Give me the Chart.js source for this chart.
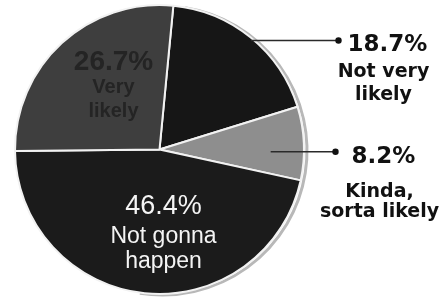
<!DOCTYPE html>
<html>
<head>
<meta charset="utf-8">
<script src="https://cdn.jsdelivr.net/npm/chart.js@4.4.0/dist/chart.umd.min.js"></script>
<style>
  html, body { margin: 0; padding: 0; background: #fff; }
  #wrap { width: 443px; height: 303px; }
</style>
</head>
<body>
<div id="wrap"><canvas id="pie" width="443" height="303"></canvas></div>
<script>
// slices, clockwise from just right of 12 o'clock
const labels = ["Not very likely", "Kinda, sorta likely", "Not gonna happen", "Very likely"];
const values = [18.7, 8.2, 46.4, 26.7];
const colors = ["#161616", "#8e8e8e", "#1b1b1b", "#3e3e3e"];
// text lines shown for each slice
const valueText = ["18.7%", "8.2%", "46.4%", "26.7%"];
const nameLines = [["Not very", "likely"], ["Kinda,", "sorta likely"], ["Not gonna", "happen"], ["Very", "likely"]];

const ctx = document.getElementById("pie");

// shadow on the right rim + labels
const labelPlugin = {
  id: "labelPlugin",
  beforeDatasetsDraw(chart) {
    const arc = chart.getDatasetMeta(0).data[0];
    const c = chart.ctx;
    c.save();
    c.strokeStyle = "#b8b8b8";
    c.lineWidth = 3;
    c.beginPath();
    c.arc(arc.x + 3, arc.y + 1, arc.outerRadius, -Math.PI * 0.45, Math.PI * 0.55);
    c.stroke();
    c.restore();
  },
  afterDatasetsDraw(chart) {
    const meta = chart.getDatasetMeta(0);
    const c = chart.ctx;
    const cx = meta.data[0].x, cy = meta.data[0].y, r = meta.data[0].outerRadius;
    c.save();
    c.textAlign = "center";
    c.textBaseline = "middle";

    // outside labels with leader lines
    const outside = [
      { i: 0, frac: 1.0, dy: 3, tx: cx + 228, dot: cx + 179, gap: 32, lh: 23 },
      { i: 1, frac: 0.77, dy: 7, tx: cx + 224, dot: cx + 176, gap: 40, lh: 20 }
    ];
    outside.forEach(o => {
      const a = meta.data[o.i];
      const mid = (a.startAngle + a.endAngle) / 2;
      const sx = cx + Math.cos(mid) * r * o.frac;
      const sy = cy + Math.sin(mid) * r * o.frac + o.dy;
      c.strokeStyle = "#2a2a2a";
      c.lineWidth = 1.5;
      c.beginPath();
      c.moveTo(sx, sy);
      c.lineTo(o.dot, sy);
      c.stroke();
      c.fillStyle = "#111";
      c.beginPath();
      c.arc(o.dot, sy, 3.2, 0, Math.PI * 2);
      c.fill();
      c.font = "bold 23px 'DejaVu Sans'";
      c.fillText(valueText[o.i], o.tx, sy + 5);
      c.font = "bold 19px 'DejaVu Sans'";
      nameLines[o.i].forEach((t, k) => c.fillText(t, o.tx - 4, sy + o.gap + k * o.lh));
    });

    // inside: Not gonna happen (white)
    c.fillStyle = "#f4f4f4";
    c.font = "27px 'Liberation Sans'";
    c.fillText(valueText[2], cx + 4, cy + 57);
    c.font = "23px 'Liberation Sans'";
    c.fillText(nameLines[2][0], cx + 4, cy + 87);
    c.fillText(nameLines[2][1], cx + 4, cy + 112);

    // inside: Very likely (dark on dark)
    c.fillStyle = "#242424";
    c.font = "bold 28px 'Liberation Sans'";
    c.fillText(valueText[3], cx - 46, cy - 87);
    c.font = "bold 20px 'Liberation Sans'";
    c.fillText(nameLines[3][0], cx - 46, cy - 62);
    c.fillText(nameLines[3][1], cx - 46, cy - 38);
    c.restore();
  }
};

new Chart(ctx, {
  type: "pie",
  data: {
    labels: labels,
    datasets: [{
      data: values,
      backgroundColor: colors,
      borderColor: "#f2f2f2",
      borderWidth: 2
    }]
  },
  options: {
    responsive: false,
    animation: false,
    rotation: 5.5,
    layout: { padding: { left: 13, right: 137, top: 4, bottom: 8 } },
    plugins: {
      legend: { display: false },
      tooltip: { enabled: false }
    }
  },
  plugins: [labelPlugin]
});
</script>
</body>
</html>
